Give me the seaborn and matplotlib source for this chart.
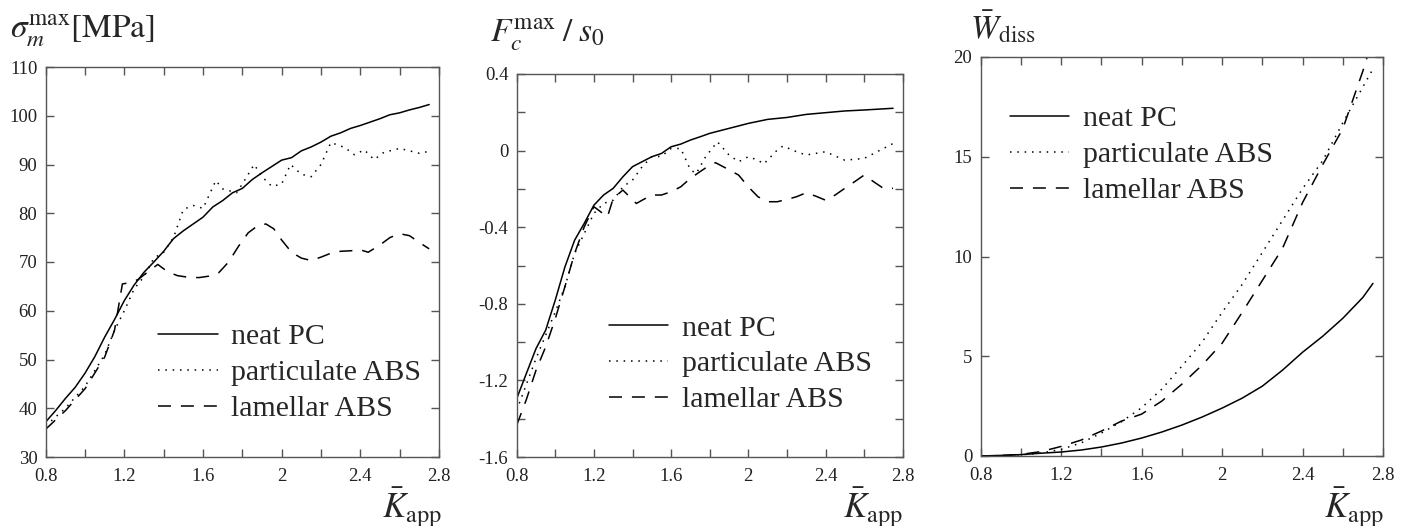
import matplotlib
matplotlib.use("Agg")
import matplotlib.pyplot as plt
import matplotlib.ticker as mticker
import seaborn as sns

# sigma_m^max [MPa]
sig_pc_x = [0.80, 0.85, 0.90, 0.95, 1.00, 1.05, 1.10, 1.15, 1.20, 1.25, 1.30, 1.35, 1.40, 1.45,
            1.50, 1.55, 1.60, 1.65, 1.70, 1.75, 1.80, 1.85, 1.90, 1.95, 2.00, 2.05, 2.10, 2.15,
            2.20, 2.25, 2.30, 2.35, 2.40, 2.45, 2.50, 2.55, 2.60, 2.65, 2.70, 2.75]
sig_pc_y = [37.2, 39.5, 42.0, 44.3, 47.2, 50.6, 54.6, 58.2, 62.1, 65.3, 67.9, 70.0, 72.2, 74.8,
            76.4, 77.8, 79.2, 81.3, 82.6, 84.2, 85.1, 86.9, 88.3, 89.6, 90.9, 91.4, 92.8, 93.6,
            94.6, 95.8, 96.5, 97.4, 98.0, 98.7, 99.4, 100.2, 100.6, 101.2, 101.7, 102.3]
sig_pa_x = [0.80, 0.90, 1.00, 1.10, 1.15, 1.20, 1.25, 1.30, 1.35, 1.40, 1.45, 1.50, 1.55, 1.60,
            1.665, 1.70, 1.77, 1.80, 1.86, 1.90, 1.95, 2.00, 2.045, 2.10, 2.15, 2.20, 2.25, 2.32,
            2.37, 2.42, 2.47, 2.52, 2.60, 2.70, 2.75]
sig_pa_y = [36.4, 40.0, 44.5, 51.0, 56.0, 60.0, 64.5, 67.0, 70.8, 72.0, 75.0, 80.8, 81.6, 81.0,
            86.7, 85.0, 84.2, 86.0, 90.0, 87.5, 85.5, 86.0, 90.0, 88.0, 87.5, 90.0, 94.5, 93.5,
            92.0, 93.0, 91.0, 92.5, 93.3, 92.3, 92.7]
sig_la_x = [0.80, 0.90, 1.00, 1.10, 1.15, 1.19, 1.22, 1.27, 1.32, 1.37, 1.42, 1.47, 1.52, 1.58,
            1.63, 1.68, 1.73, 1.78, 1.83, 1.88, 1.92, 1.96, 2.00, 2.05, 2.10, 2.15, 2.20, 2.25,
            2.30, 2.35, 2.40, 2.44, 2.50, 2.55, 2.60, 2.65, 2.70, 2.75]
sig_la_y = [35.7, 39.5, 44.0, 50.5, 56.0, 65.5, 65.7, 66.4, 68.0, 69.5, 68.0, 67.2, 66.9, 66.8,
            67.1, 67.8, 70.0, 73.2, 76.0, 77.5, 77.8, 76.8, 74.5, 72.0, 70.8, 70.3, 71.0, 71.8,
            72.2, 72.3, 72.5, 72.0, 73.5, 75.0, 75.8, 75.4, 74.0, 72.7]

# F_c^max / s_0
f_pc_x = [0.80, 0.85, 0.90, 0.95, 1.00, 1.05, 1.10, 1.15, 1.20, 1.25, 1.30, 1.35, 1.40, 1.45,
          1.50, 1.55, 1.60, 1.65, 1.70, 1.75, 1.80, 1.90, 2.00, 2.10, 2.20, 2.30, 2.40, 2.50,
          2.60, 2.75]
f_pc_y = [-1.295, -1.164, -1.034, -0.938, -0.780, -0.607, -0.468, -0.380, -0.285, -0.232,
          -0.197, -0.137, -0.084, -0.058, -0.032, -0.015, 0.020, 0.034, 0.055, 0.072, 0.090,
          0.116, 0.142, 0.163, 0.173, 0.189, 0.198, 0.207, 0.212, 0.221]
f_pa_x = [0.80, 0.90, 1.00, 1.05, 1.10, 1.15, 1.20, 1.25, 1.30, 1.35, 1.40, 1.45, 1.50, 1.55,
          1.60, 1.65, 1.70, 1.73, 1.78, 1.84, 1.90, 1.95, 2.00, 2.05, 2.08, 2.15, 2.18, 2.25,
          2.30, 2.40, 2.50, 2.60, 2.70, 2.75]
f_pa_y = [-1.356, -1.086, -0.842, -0.710, -0.537, -0.433, -0.328, -0.276, -0.259, -0.189,
          -0.154, -0.084, -0.032, -0.030, 0.011, 0.011, -0.100, -0.120, -0.030, 0.046, -0.023,
          -0.058, -0.032, -0.050, -0.070, 0.003, 0.024, -0.006, -0.023, -0.006, -0.050, -0.041,
          0.011, 0.037]
f_la_x = [0.80, 0.85, 0.90, 0.95, 1.00, 1.05, 1.10, 1.15, 1.20, 1.27, 1.30, 1.35, 1.42, 1.45,
          1.50, 1.55, 1.60, 1.65, 1.70, 1.75, 1.80, 1.83, 1.90, 1.95, 2.00, 2.05, 2.10, 2.15,
          2.20, 2.25, 2.30, 2.35, 2.40, 2.45, 2.50, 2.55, 2.60, 2.65, 2.70, 2.75]
f_la_y = [-1.434, -1.300, -1.147, -1.025, -0.877, -0.710, -0.537, -0.398, -0.293, -0.346,
          -0.250, -0.206, -0.276, -0.259, -0.232, -0.232, -0.215, -0.189, -0.145, -0.110,
          -0.076, -0.063, -0.100, -0.128, -0.189, -0.241, -0.267, -0.267, -0.255, -0.241,
          -0.220, -0.238, -0.259, -0.232, -0.197, -0.163, -0.128, -0.163, -0.197, -0.197]

# W_diss
w_x = [0.8, 0.9, 1.0, 1.1, 1.2, 1.3, 1.4, 1.5, 1.6, 1.7, 1.8, 1.9, 2.0, 2.1, 2.2, 2.3, 2.4,
       2.5, 2.6, 2.7, 2.75]
w_pc_y = [0.0, 0.03, 0.07, 0.14, 0.20, 0.30, 0.45, 0.65, 0.90, 1.20, 1.55, 1.95, 2.40, 2.90,
          3.50, 4.30, 5.20, 6.00, 6.90, 7.95, 8.65]
w_pa_y = [0.0, 0.02, 0.06, 0.15, 0.33, 0.66, 1.15, 1.72, 2.42, 3.35, 4.50, 5.70, 7.20, 8.60,
          10.2, 11.8, 13.4, 14.8, 16.7, 18.5, 19.4]
w_la_x = [0.8, 0.9, 1.0, 1.1, 1.2, 1.3, 1.4, 1.5, 1.6, 1.7, 1.8, 1.9, 2.0, 2.1, 2.2, 2.3, 2.4,
          2.5, 2.6, 2.7, 2.73]
w_la_y = [0.0, 0.02, 0.08, 0.22, 0.48, 0.80, 1.25, 1.75, 2.10, 2.75, 3.60, 4.55, 5.65, 7.20,
          8.80, 10.4, 12.7, 14.6, 16.4, 19.3, 20.3]

labels = ["neat PC", "particulate ABS", "lamellar ABS"]

sns.set_style("ticks")
plt.rcParams["font.family"] = "serif"
plt.rcParams["font.serif"] = ["Liberation Serif", "DejaVu Serif"]
plt.rcParams["mathtext.fontset"] = "stix"
plt.rcParams["axes.unicode_minus"] = False

fig = plt.figure(figsize=(14.1, 5.26), dpi=100)
W, H = 1410, 526


def px_axes(l, t, r, b):
    return fig.add_axes([l / W, 1 - b / H, (r - l) / W, (b - t) / H])


ax1 = px_axes(45.7, 67, 439, 457)
ax2 = px_axes(516.7, 74, 902.7, 457)
ax3 = px_axes(980.7, 57, 1383, 456)

styles = ["-", (0, (1, 3.8)), (0, (8.5, 6.5))]

panels = [
    (ax1, [(sig_pc_x, sig_pc_y), (sig_pa_x, sig_pa_y), (sig_la_x, sig_la_y)],
     (30, 110), 10, None, (0.285, 0.216)),
    (ax2, [(f_pc_x, f_pc_y), (f_pa_x, f_pa_y), (f_la_x, f_la_y)],
     (-1.6, 0.4), 0.4, 0.2, (0.238, 0.243)),
    (ax3, [(w_x, w_pc_y), (w_x, w_pa_y), (w_la_x, w_la_y)],
     (0, 20), 5, None, (0.072, 0.755)),
]

fmt = mticker.FuncFormatter(lambda v, p: f"{v:g}")

for ax, series, ylim, ymaj, ymin, lpos in panels:
    for (xs, ys), ls, lab in zip(series, styles, labels):
        sns.lineplot(x=xs, y=ys, ax=ax, color="black", linestyle=ls, linewidth=1.1,
                     label=lab, sort=False, estimator=None)
    ax.set_xlim(0.8, 2.8)
    ax.set_ylim(*ylim)
    ax.xaxis.set_major_locator(mticker.MultipleLocator(0.4))
    ax.xaxis.set_minor_locator(mticker.MultipleLocator(0.2))
    ax.yaxis.set_major_locator(mticker.MultipleLocator(ymaj))
    if ymin:
        ax.yaxis.set_minor_locator(mticker.MultipleLocator(ymin))
    ax.xaxis.set_major_formatter(fmt)
    ax.yaxis.set_major_formatter(fmt)
    ax.tick_params(which="both", direction="in", top=True, right=True, length=6,
                   width=1, color="#555555", labelsize=13.5, labelcolor="#222222")
    ax.tick_params(axis="x", pad=8)
    ax.tick_params(axis="y", pad=6)
    for s in ax.spines.values():
        s.set_color("#555555")
        s.set_linewidth(1.0)
    ax.set_xlabel("")
    ax.set_ylabel("")
    ax.legend(loc="center left", bbox_to_anchor=lpos, frameon=False, fontsize=21.5,
              handlelength=2.0, handletextpad=0.45, labelspacing=0.3, borderpad=0,
              borderaxespad=0)

fig.text(10 / W, 1 - 31 / H, r"$\sigma_m^{\rm max}[\rm MPa]$", fontsize=24, va="center", ha="left")
fig.text(490 / W, 1 - 35 / H, r"$F_c^{\rm max}\;/\;s_0$", fontsize=24, va="center", ha="left")
fig.text(970 / W, 1 - 27 / H, r"$\bar{W}_{\rm diss}$", fontsize=24, va="center", ha="left")
for xr in (442, 903, 1384):
    fig.text(xr / W, 1 - 507 / H, r"$\bar{K}_{\rm app}$", fontsize=25, va="center", ha="right")

fig.savefig("out.png", dpi=100)
